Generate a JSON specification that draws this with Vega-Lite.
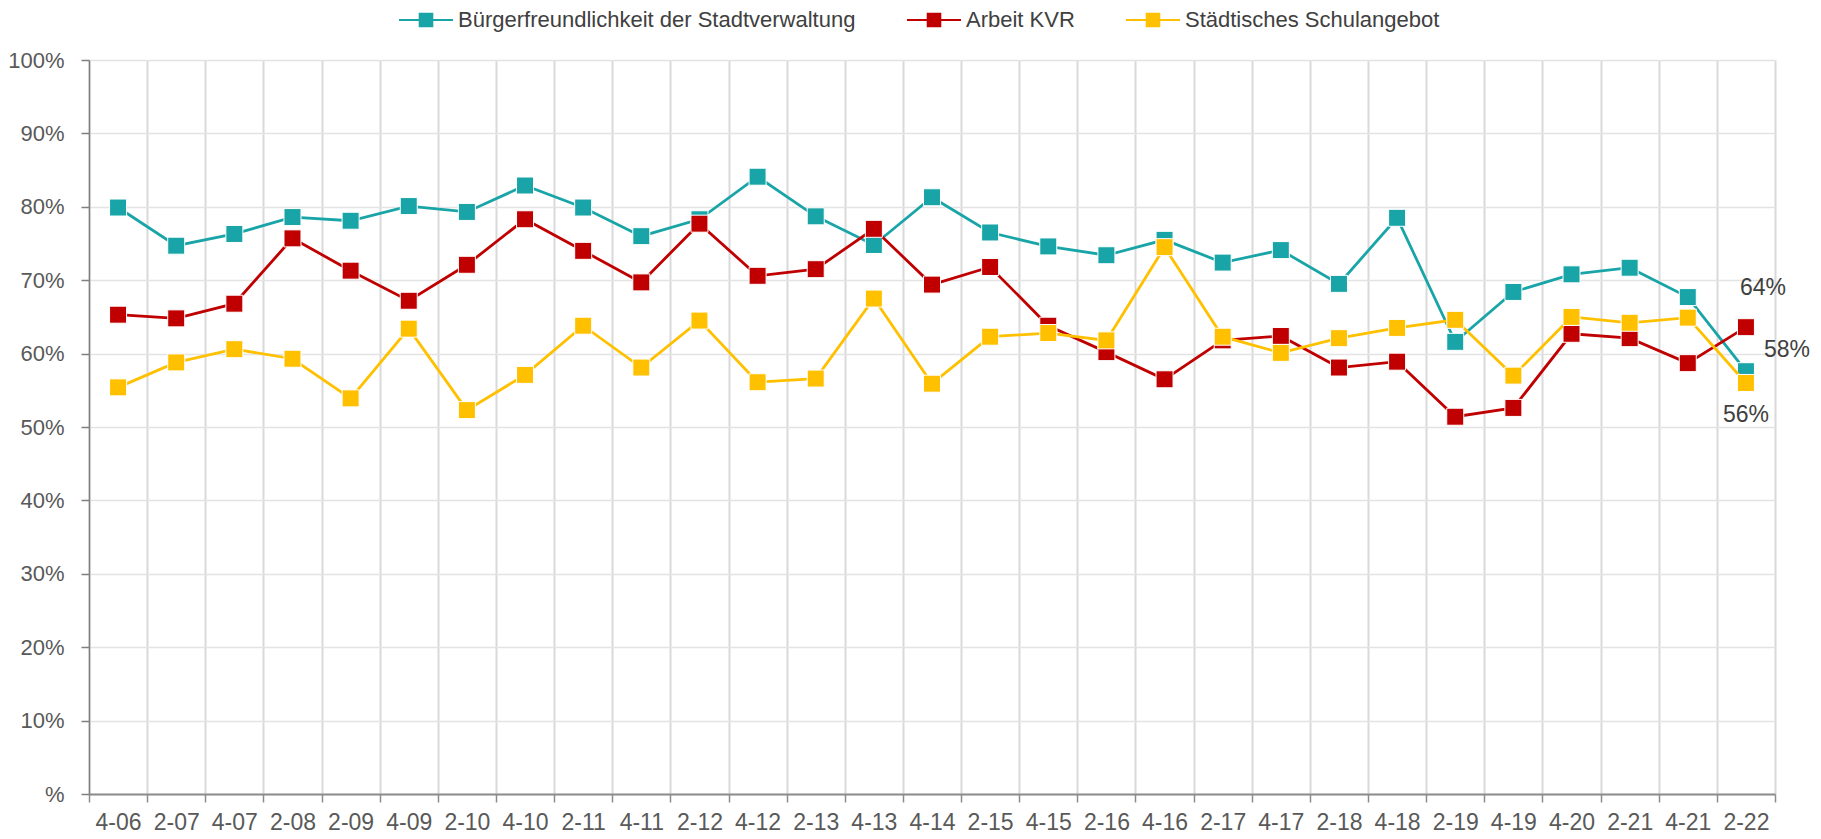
{
  "$schema": "https://vega.github.io/schema/vega-lite/v6.json",
  "autosize": {"type": "none"},
  "padding": {"left": 89, "top": 60, "right": 46, "bottom": 45},
  "width": 1686,
  "height": 734,
  "background": "white",
  "config": {
    "view": {"stroke": null},
    "font": "Liberation Sans"
  },
  "data": {
    "values": [
      {"period": "4-06", "Bürgerfreundlichkeit der Stadtverwaltung": 0.799, "Arbeit KVR": 0.653, "Städtisches Schulangebot": 0.554},
      {"period": "2-07", "Bürgerfreundlichkeit der Stadtverwaltung": 0.747, "Arbeit KVR": 0.648, "Städtisches Schulangebot": 0.588},
      {"period": "4-07", "Bürgerfreundlichkeit der Stadtverwaltung": 0.763, "Arbeit KVR": 0.668, "Städtisches Schulangebot": 0.606},
      {"period": "2-08", "Bürgerfreundlichkeit der Stadtverwaltung": 0.786, "Arbeit KVR": 0.757, "Städtisches Schulangebot": 0.593},
      {"period": "2-09", "Bürgerfreundlichkeit der Stadtverwaltung": 0.781, "Arbeit KVR": 0.713, "Städtisches Schulangebot": 0.539},
      {"period": "4-09", "Bürgerfreundlichkeit der Stadtverwaltung": 0.801, "Arbeit KVR": 0.672, "Städtisches Schulangebot": 0.634},
      {"period": "2-10", "Bürgerfreundlichkeit der Stadtverwaltung": 0.793, "Arbeit KVR": 0.721, "Städtisches Schulangebot": 0.523},
      {"period": "4-10", "Bürgerfreundlichkeit der Stadtverwaltung": 0.829, "Arbeit KVR": 0.783, "Städtisches Schulangebot": 0.571},
      {"period": "2-11", "Bürgerfreundlichkeit der Stadtverwaltung": 0.799, "Arbeit KVR": 0.740, "Städtisches Schulangebot": 0.638},
      {"period": "4-11", "Bürgerfreundlichkeit der Stadtverwaltung": 0.760, "Arbeit KVR": 0.697, "Städtisches Schulangebot": 0.581},
      {"period": "2-12", "Bürgerfreundlichkeit der Stadtverwaltung": 0.783, "Arbeit KVR": 0.777, "Städtisches Schulangebot": 0.645},
      {"period": "4-12", "Bürgerfreundlichkeit der Stadtverwaltung": 0.841, "Arbeit KVR": 0.706, "Städtisches Schulangebot": 0.561},
      {"period": "2-13", "Bürgerfreundlichkeit der Stadtverwaltung": 0.787, "Arbeit KVR": 0.715, "Städtisches Schulangebot": 0.566},
      {"period": "4-13", "Bürgerfreundlichkeit der Stadtverwaltung": 0.748, "Arbeit KVR": 0.770, "Städtisches Schulangebot": 0.675},
      {"period": "4-14", "Bürgerfreundlichkeit der Stadtverwaltung": 0.813, "Arbeit KVR": 0.694, "Städtisches Schulangebot": 0.559},
      {"period": "2-15", "Bürgerfreundlichkeit der Stadtverwaltung": 0.765, "Arbeit KVR": 0.718, "Städtisches Schulangebot": 0.623},
      {"period": "4-15", "Bürgerfreundlichkeit der Stadtverwaltung": 0.746, "Arbeit KVR": 0.638, "Städtisches Schulangebot": 0.628},
      {"period": "2-16", "Bürgerfreundlichkeit der Stadtverwaltung": 0.734, "Arbeit KVR": 0.602, "Städtisches Schulangebot": 0.618},
      {"period": "4-16", "Bürgerfreundlichkeit der Stadtverwaltung": 0.755, "Arbeit KVR": 0.565, "Städtisches Schulangebot": 0.745},
      {"period": "2-17", "Bürgerfreundlichkeit der Stadtverwaltung": 0.724, "Arbeit KVR": 0.618, "Städtisches Schulangebot": 0.623},
      {"period": "4-17", "Bürgerfreundlichkeit der Stadtverwaltung": 0.741, "Arbeit KVR": 0.624, "Städtisches Schulangebot": 0.601},
      {"period": "2-18", "Bürgerfreundlichkeit der Stadtverwaltung": 0.695, "Arbeit KVR": 0.581, "Städtisches Schulangebot": 0.621},
      {"period": "4-18", "Bürgerfreundlichkeit der Stadtverwaltung": 0.785, "Arbeit KVR": 0.589, "Städtisches Schulangebot": 0.635},
      {"period": "2-19", "Bürgerfreundlichkeit der Stadtverwaltung": 0.616, "Arbeit KVR": 0.514, "Städtisches Schulangebot": 0.646},
      {"period": "4-19", "Bürgerfreundlichkeit der Stadtverwaltung": 0.684, "Arbeit KVR": 0.526, "Städtisches Schulangebot": 0.570},
      {"period": "4-20", "Bürgerfreundlichkeit der Stadtverwaltung": 0.708, "Arbeit KVR": 0.627, "Städtisches Schulangebot": 0.650},
      {"period": "2-21", "Bürgerfreundlichkeit der Stadtverwaltung": 0.717, "Arbeit KVR": 0.621, "Städtisches Schulangebot": 0.642},
      {"period": "4-21", "Bürgerfreundlichkeit der Stadtverwaltung": 0.677, "Arbeit KVR": 0.587, "Städtisches Schulangebot": 0.649},
      {"period": "2-22", "Bürgerfreundlichkeit der Stadtverwaltung": 0.576, "Arbeit KVR": 0.636, "Städtisches Schulangebot": 0.560}
    ]
  },
  "transform": [
    {"fold": ["Bürgerfreundlichkeit der Stadtverwaltung", "Arbeit KVR", "Städtisches Schulangebot"], "as": ["series", "value"]}
  ],
  "encoding": {
    "x": {
      "field": "period", "type": "nominal", "sort": null, "bandPosition": 0.5,
      "scale": {"type": "band", "paddingInner": 0, "paddingOuter": 0},
      "axis": {
        "title": null, "labelAngle": 0, "tickBand": "extent", "labelOverlap": false,
        "domainColor": "#8C8C8C", "domainWidth": 2,
        "tickColor": "#8C8C8C", "tickWidth": 1.5, "tickSize": 8,
        "grid": true, "gridColor": "#D9D9D9", "gridWidth": 2,
        "labelFont": "Liberation Sans", "labelFontSize": 23, "labelColor": "#595959",
        "labelPadding": 9, "labelBaseline": "top"
      }
    },
    "y": {
      "field": "value", "type": "quantitative",
      "scale": {"domain": [0, 1], "nice": false, "zero": true},
      "axis": {
        "title": null,
        "values": [0, 0.1, 0.2, 0.3, 0.4, 0.5, 0.6, 0.7, 0.8, 0.9, 1],
        "labelExpr": "datum.value == 0 ? '%' : format(datum.value, '.0%')",
        "domainColor": "#7F7F7F", "domainWidth": 1.5,
        "tickColor": "#7F7F7F", "tickWidth": 1.5, "tickSize": 8,
        "grid": true, "gridColor": "#E3E3E3", "gridWidth": 1.5,
        "labelFont": "Liberation Sans", "labelFontSize": 22, "labelColor": "#595959",
        "labelPadding": 17
      }
    },
    "color": {
      "field": "series", "type": "nominal",
      "scale": {
        "domain": ["Bürgerfreundlichkeit der Stadtverwaltung", "Arbeit KVR", "Städtisches Schulangebot"],
        "range": ["#19A5A8", "#C00000", "#FFC000"]
      },
      "legend": {
        "title": null, "orient": "none", "direction": "horizontal",
        "legendX": 310, "legendY": -67,
        "symbolType": "M-1,-0.04H1V0.04H-1Z M-0.27,-0.27H0.27V0.27H-0.27Z",
        "symbolSize": 2916, "symbolStrokeWidth": 0, "symbolOpacity": 1,
        "labelFont": "Liberation Sans", "labelFontSize": 22, "labelColor": "#404040",
        "labelLimit": 0,
        "labelOffset": 5, "columnPadding": 51,
        "encode": {
          "symbols": {"update": {"fill": {"scale": "color", "field": "value"}, "stroke": {"value": "transparent"}, "opacity": {"value": 1}}}
        }
      }
    }
  },
  "layer": [
    {"transform": [{"filter": "datum.series == 'Bürgerfreundlichkeit der Stadtverwaltung'"}],
     "mark": {"type": "line", "strokeWidth": 2.8}},
    {"transform": [{"filter": "datum.series == 'Bürgerfreundlichkeit der Stadtverwaltung'"}],
     "mark": {"type": "point", "shape": "square", "filled": true, "size": 289, "opacity": 1, "stroke": "white", "strokeWidth": 1}},
    {"transform": [{"filter": "datum.series == 'Arbeit KVR'"}],
     "mark": {"type": "line", "strokeWidth": 2.8}},
    {"transform": [{"filter": "datum.series == 'Arbeit KVR'"}],
     "mark": {"type": "point", "shape": "square", "filled": true, "size": 289, "opacity": 1, "stroke": "white", "strokeWidth": 1}},
    {"transform": [{"filter": "datum.series == 'Städtisches Schulangebot'"}],
     "mark": {"type": "line", "strokeWidth": 2.8}},
    {"transform": [{"filter": "datum.series == 'Städtisches Schulangebot'"}],
     "mark": {"type": "point", "shape": "square", "filled": true, "size": 289, "opacity": 1, "stroke": "white", "strokeWidth": 1}},
    {"transform": [{"filter": "datum.series == 'Arbeit KVR' && datum.period == '2-22'"}],
     "mark": {"type": "text", "dx": 17, "dy": -39, "fontSize": 23, "font": "Liberation Sans"},
     "encoding": {"text": {"field": "value", "format": ".0%"}, "color": {"value": "#404040"}}},
    {"transform": [{"filter": "datum.series == 'Bürgerfreundlichkeit der Stadtverwaltung' && datum.period == '2-22'"}],
     "mark": {"type": "text", "dx": 41, "dy": -21, "fontSize": 23, "font": "Liberation Sans"},
     "encoding": {"text": {"field": "value", "format": ".0%"}, "color": {"value": "#404040"}}},
    {"transform": [{"filter": "datum.series == 'Städtisches Schulangebot' && datum.period == '2-22'"}],
     "mark": {"type": "text", "dx": 0, "dy": 32, "fontSize": 23, "font": "Liberation Sans"},
     "encoding": {"text": {"field": "value", "format": ".0%"}, "color": {"value": "#404040"}}}
  ]
}
